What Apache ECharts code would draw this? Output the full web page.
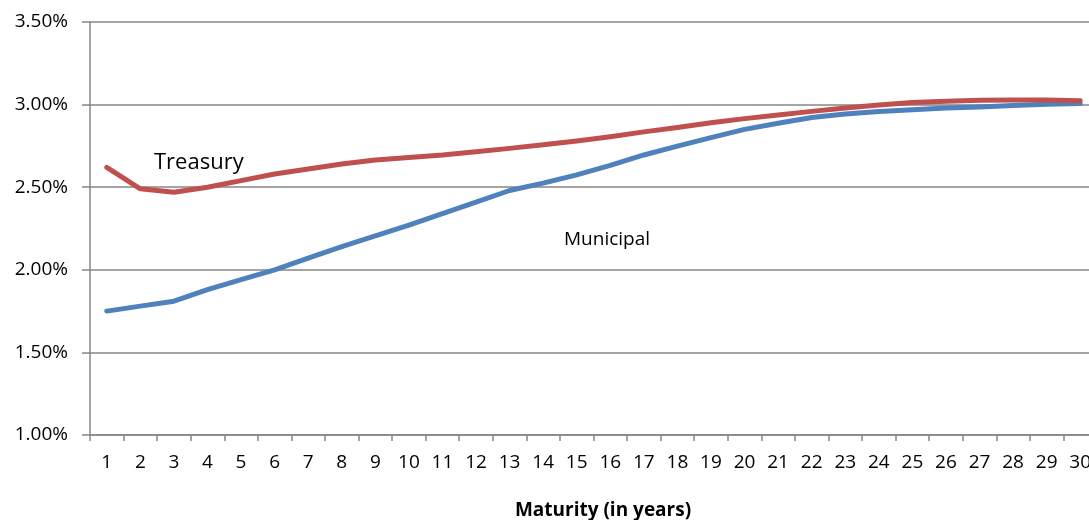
<!DOCTYPE html>
<html>
<head>
<meta charset="utf-8">
<script src="https://cdn.jsdelivr.net/npm/echarts@6/dist/echarts.min.js"></script>
<style>
  html, body { margin: 0; padding: 0; background: #fff; }
  #chart { width: 1089px; height: 520px; }
</style>
</head>
<body>
<div id="chart"></div>
<script>
// maturity in years
const maturities = ['1','2','3','4','5','6','7','8','9','10','11','12','13','14','15',
  '16','17','18','19','20','21','22','23','24','25','26','27','28','29','30'];

// yields, in percent
const treasury = [2.62, 2.49, 2.47, 2.50, 2.54, 2.58, 2.61, 2.64, 2.665, 2.68,
  2.695, 2.715, 2.735, 2.757, 2.78, 2.806, 2.835, 2.862, 2.89, 2.915,
  2.937, 2.959, 2.979, 2.998, 3.012, 3.02, 3.026, 3.028, 3.028, 3.024];
const municipal = [1.75, 1.78, 1.81, 1.88, 1.94, 2.00, 2.07, 2.14, 2.205, 2.27,
  2.34, 2.41, 2.48, 2.525, 2.575, 2.632, 2.695, 2.749, 2.80, 2.85,
  2.887, 2.922, 2.943, 2.958, 2.969, 2.979, 2.986, 2.994, 3.002, 3.006];

const yTicks = [1.0, 1.5, 2.0, 2.5, 3.0, 3.5];

const chart = echarts.init(document.getElementById('chart'));
const font = '"Open Sans", sans-serif';
const gridGrey = '#868686';

const option = {
  animation: false,
  textStyle: { fontFamily: font },
  grid: {
    left: 90,
    right: -8,
    top: 22,
    bottom: 85,
    containLabel: false,
    outerBoundsMode: 'none'
  },
  xAxis: {
    type: 'category',
    data: maturities,
    boundaryGap: true,
    axisLine: { lineStyle: { color: gridGrey, width: 1.5 } },
    axisTick: { show: true, length: 6, inside: false, alignWithLabel: false,
      lineStyle: { color: gridGrey, width: 1.5 } },
    axisLabel: { color: '#000', fontSize: 19, margin: 18, fontFamily: font, interval: 0 },
    splitLine: { show: false },
    name: 'Maturity (in years)',
    nameLocation: 'middle',
    nameGap: 66,
    nameTextStyle: { color: '#000', fontSize: 19, fontWeight: 'bold', fontFamily: font,
      padding: [0, 0, 0, 19] }
  },
  yAxis: {
    type: 'value',
    min: yTicks[0],
    max: yTicks[yTicks.length - 1],
    interval: 0.5,
    axisLine: { show: true, lineStyle: { color: gridGrey, width: 1.5 } },
    axisTick: { show: true, length: 8, inside: false, lineStyle: { color: gridGrey, width: 1.5 } },
    axisLabel: {
      color: '#000', fontSize: 19, margin: 22, fontFamily: font,
      formatter: function (v) { return v.toFixed(2) + '%'; }
    },
    splitLine: { show: true, lineStyle: { color: gridGrey, width: 1.5 } }
  },
  series: [
    {
      name: 'Municipal',
      type: 'line',
      data: municipal,
      symbol: 'none',
      lineStyle: { color: '#4f81bd', width: 5, cap: 'round', join: 'round' },
      z: 2
    },
    {
      name: 'Treasury',
      type: 'line',
      data: treasury,
      symbol: 'none',
      lineStyle: { color: '#c0504d', width: 5, cap: 'round', join: 'round' },
      z: 3
    }
  ],
  graphic: [
    {
      type: 'text', left: 154, top: 152,
      style: { text: 'Treasury', font: '22px "Open Sans", sans-serif', fill: '#000' }
    },
    {
      type: 'text', left: 564, top: 230,
      style: { text: 'Municipal', font: '19px "Open Sans", sans-serif', fill: '#000' }
    }
  ]
};

chart.setOption(option);
</script>
</body>
</html>
